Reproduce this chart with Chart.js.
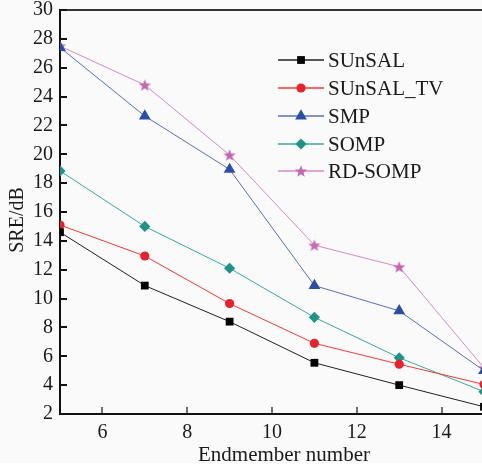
<!DOCTYPE html>
<html>
<head>
<meta charset="utf-8">
<script src="https://cdn.jsdelivr.net/npm/chart.js@4/dist/chart.umd.min.js"></script>
<style>
  html, body { margin: 0; padding: 0; overflow: hidden; background: #fafafa; }
  #wrap { width: 490px; height: 468px; }
</style>
</head>
<body>
<div id="wrap"><canvas id="sre" width="490" height="468"></canvas></div>
<script>
// endmember numbers on the x axis
const endmembers = [5, 7, 9, 11, 13, 15];
const xTicks = [6, 8, 10, 12, 14];

// SRE (dB) per method
const sunsal = [14.6, 10.9, 8.4, 5.55, 4.0, 2.5];
const sunsalTV = [15.1, 12.95, 9.65, 6.9, 5.45, 4.05];
const smp = [27.4, 22.65, 18.95, 10.9, 9.15, 5.0];
const somp = [18.85, 15.0, 12.1, 8.7, 5.9, 3.55];
const rdSomp = [27.5, 24.8, 19.95, 13.7, 12.2, 5.2];

const xTitle = "Endmember number";
const yTitle = "SRE/dB";

const serif = "'Liberation Serif', 'Times New Roman', Times, serif";

// five point filled star marker for RD-SOMP
function makeStar(color) {
  const c = document.createElement("canvas");
  c.width = 14;
  c.height = 14;
  const g = c.getContext("2d");
  g.fillStyle = color;
  g.beginPath();
  for (let i = 0; i < 10; i++) {
    const r = i % 2 === 0 ? 6.4 : 2.7;
    const a = -Math.PI / 2 + (i * Math.PI) / 5;
    g.lineTo(7 + r * Math.cos(a), 7.6 + r * Math.sin(a));
  }
  g.closePath();
  g.fill();
  return c;
}

function toPoints(values) {
  return values.map((v, i) => ({ x: endmembers[i], y: v }));
}

function series(label, values, line, marker, style, radius) {
  return {
    label: label,
    data: toPoints(values),
    borderColor: line,
    backgroundColor: marker,
    pointBackgroundColor: marker,
    pointBorderColor: marker,
    pointStyle: style,
    pointRadius: radius,
    pointBorderWidth: 0,
    borderWidth: 1,
    tension: 0,
    clip: { left: 0, top: 20, right: 20, bottom: 0 }
  };
}

const datasets = [
  series("SUnSAL", sunsal, "#202020", "#000000", "rect", 5.5),
  series("SUnSAL_TV", sunsalTV, "#f03a3a", "#e8222c", "circle", 4.6),
  series("SMP", smp, "#5a6ec0", "#2a4ea8", "triangle", 6.8),
  series("SOMP", somp, "#3aa8a0", "#1e9488", "rectRot", 5.6),
  series("RD-SOMP", rdSomp, "#d48cc4", "#c466b0", makeStar("#c466b0"), 7)
];

// background, top frame line, inward tick marks and axis titles
const framePlugin = {
  id: "frame",
  beforeDraw(chart) {
    const ctx = chart.ctx;
    ctx.save();
    ctx.fillStyle = "#fafafa";
    ctx.fillRect(0, 0, chart.width, chart.height);
    ctx.fillStyle = "#ffffff";
    ctx.fillRect(0, 463, chart.width, chart.height - 463);
    ctx.restore();
  },
  afterDatasetsDraw(chart) {
    const { ctx, chartArea, scales } = chart;
    ctx.save();
    ctx.strokeStyle = "#333333";
    ctx.lineWidth = 2;
    ctx.beginPath();
    ctx.moveTo(chartArea.left, chartArea.top);
    ctx.lineTo(chartArea.right + 10, chartArea.top);
    ctx.stroke();

    ctx.strokeStyle = "#111111";
    ctx.lineWidth = 2;
    scales.y.ticks.forEach((t) => {
      const y = Math.round(scales.y.getPixelForValue(t.value));
      ctx.beginPath();
      ctx.moveTo(chartArea.left, y);
      ctx.lineTo(chartArea.left + 7, y);
      ctx.stroke();
    });
    ctx.lineWidth = 1.2;
    scales.x.ticks.forEach((t) => {
      const x = Math.round(scales.x.getPixelForValue(t.value));
      ctx.beginPath();
      ctx.moveTo(x, chartArea.bottom);
      ctx.lineTo(x, chartArea.bottom - 7);
      ctx.stroke();
    });

    // axis titles, placed as in the figure (slightly off-centre)
    ctx.fillStyle = "#1a1a1a";
    ctx.textAlign = "center";
    ctx.textBaseline = "alphabetic";
    ctx.font = "21px " + serif;
    ctx.fillText(xTitle, 284, 461);
    ctx.translate(23, 220);
    ctx.rotate(-Math.PI / 2);
    ctx.font = "20px " + serif;
    ctx.fillText(yTitle, 0, 0);
    ctx.restore();
  }
};

// legend drawn inside the plot, upper right
const legendPlugin = {
  id: "insideLegend",
  afterDraw(chart) {
    const ctx = chart.ctx;
    const rows = [60, 88, 116, 144, 171];
    ctx.save();
    chart.data.datasets.forEach((ds, i) => {
      const y = rows[i];
      ctx.strokeStyle = ds.borderColor;
      ctx.lineWidth = 1.5;
      ctx.beginPath();
      ctx.moveTo(278, y);
      ctx.lineTo(324, y);
      ctx.stroke();
      ctx.fillStyle = ds.pointBackgroundColor;
      ctx.strokeStyle = ds.pointBorderColor;
      Chart.helpers.drawPoint(ctx, {
        pointStyle: ds.pointStyle,
        radius: ds.pointRadius,
        borderWidth: 0,
        rotation: 0
      }, 301, y);
      ctx.fillStyle = "#1a1a1a";
      ctx.font = "21px " + serif;
      ctx.textBaseline = "middle";
      ctx.textAlign = "left";
      ctx.fillText(ds.label, 328, y + 1);
    });
    ctx.restore();
  }
};

function draw() {
  new Chart(document.getElementById("sre"), {
    type: "line",
    data: { datasets: datasets },
    options: {
      responsive: false,
      animation: false,
      layout: { autoPadding: false, padding: { top: 10, right: 6, left: 0, bottom: 0 } },
      plugins: { legend: { display: false }, tooltip: { enabled: false } },
      scales: {
        x: {
          type: "linear",
          min: 5,
          max: 15,
          afterBuildTicks: (scale) => {
            scale.ticks = xTicks.map((v) => ({ value: v }));
          },
          afterFit: (scale) => {
            scale.height = 54;
            scale.paddingLeft = 0;
            scale.paddingRight = 0;
          },
          grid: { display: false, drawTicks: false },
          border: { display: true, color: "#111111", width: 2 },
          ticks: {
            color: "#1a1a1a",
            padding: 7,
            maxRotation: 0,
            font: { family: serif, size: 20 }
          },
          title: { display: false }
        },
        y: {
          min: 2,
          max: 30,
          afterFit: (scale) => {
            scale.width = 60;
            scale.paddingTop = 0;
            scale.paddingBottom = 0;
          },
          grid: { display: false, drawTicks: false },
          border: { display: true, color: "#111111", width: 2 },
          ticks: {
            stepSize: 2,
            color: "#1a1a1a",
            padding: 7,
            font: { family: serif, size: 20 }
          },
          title: { display: false }
        }
      }
    },
    plugins: [framePlugin, legendPlugin]
  });
}

if (document.fonts && document.fonts.load) {
  Promise.all([
    document.fonts.load("20px 'Liberation Serif'"),
    document.fonts.load("21px 'Liberation Serif'")
  ]).then(draw, draw);
} else {
  draw();
}
</script>
</body>
</html>
